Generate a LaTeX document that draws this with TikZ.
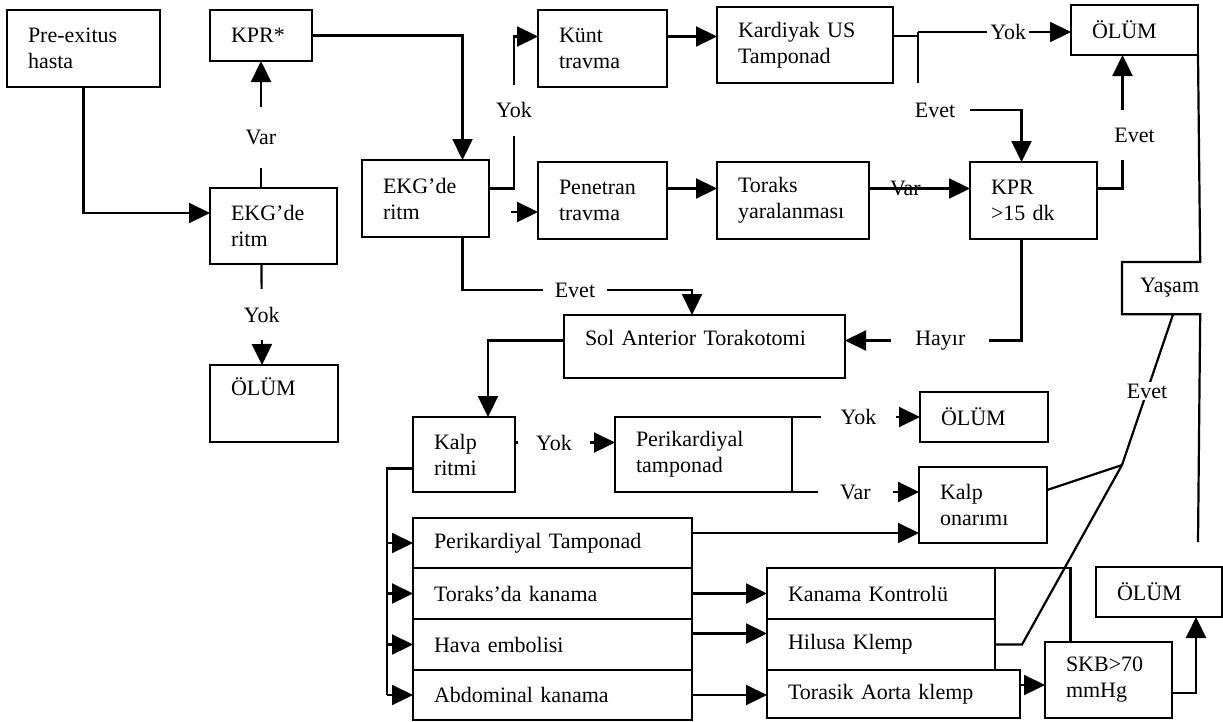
\documentclass[tikz,border=0pt]{standalone}
\usepackage{fontspec}
\setmainfont{Liberation Serif}
\usetikzlibrary{arrows.meta, positioning}

\begin{document}
\begin{tikzpicture}[x=1pt, y=-1pt, line width=2.2pt, >={Triangle[length=21pt,width=20pt]},
      every node/.style={font=\fontsize{22}{26}\selectfont},
      kutu/.style={draw, rectangle, anchor=north west, align=left, inner xsep=21pt, inner ysep=0pt, outer sep=0pt},
      etiket/.style={fill=white, inner sep=3pt}]
      \useasboundingbox (0,0) rectangle (1223,721);
      % sol taraf
      \node[kutu, text width=111pt, minimum height=77pt] (pre) at (7,10) {Pre-exitus\\hasta};
      \node[kutu, text width=60pt, minimum height=51pt] (kpr) at (210,10) {KPR*};
      \node[kutu, text width=85pt, minimum height=76pt] (ekgA) at (210,188) {EKG’de\\ritm};
      \node[kutu, text width=86pt, minimum height=77pt] (olumA) at (210,365) {ÖLÜM\\\strut};
      \node[kutu, text width=85pt, minimum height=77pt] (ekgB) at (362,160) {EKG’de\\ritm};
      % travma kollari
      \node[kutu, text width=87pt, minimum height=77pt] (kunt) at (538,10) {Künt\\travma};
      \node[kutu, text width=134pt, minimum height=76pt] (kardiyak) at (717,7) {Kardiyak US\\Tamponad};
      \node[kutu, text width=85pt, minimum height=50pt] (olumB) at (1071,5) {ÖLÜM};
      \node[kutu, text width=87pt, minimum height=77pt] (penetran) at (538,162) {Penetran\\travma};
      \node[kutu, text width=110pt, minimum height=77pt] (toraks) at (717,162) {Toraks\\yaralanması};
      \node[kutu, text width=85pt, minimum height=77pt] (kpr15) at (970,162) {KPR\\>15 dk};
      \node[anchor=north west, inner xsep=0pt, text width=76pt, align=right, minimum height=50pt] (yasam) at (1122,262) {Yaşam};
      % torakotomi
      \node[kutu, text width=239pt, minimum height=63pt, text depth=18pt] (solAT) at (564,315) {Sol Anterior Torakotomi};
      \node[kutu, text width=60pt, minimum height=75pt] (kalpR) at (413,417) {Kalp\\ritmi};
      \node[kutu, text width=135pt, minimum height=75pt] (perikT) at (615,417) {Perikardiyal\\tamponad};
      \node[kutu, text width=86pt, minimum height=50pt] (olumC) at (920,392) {ÖLÜM};
      \node[kutu, text width=86pt, minimum height=76pt] (onarim) at (919,467) {Kalp\\onarımı};
      % liste
      \node[kutu, text width=237pt, minimum height=50pt] (l1) at (413,518) {Perikardiyal Tamponad};
      \node[kutu, text width=237pt, minimum height=51pt] (l2) [below=0pt of l1.south west, anchor=north west] {Toraks’da kanama};
      \node[kutu, text width=237pt, minimum height=51pt] (l3) [below=0pt of l2.south west, anchor=north west] {Hava embolisi};
      \node[kutu, text width=237pt, minimum height=50pt] (l4) [below=0pt of l3.south west, anchor=north west] {Abdominal kanama};
      \node[kutu, text width=186pt, minimum height=51pt] (kanama) at (767,568) {Kanama Kontrolü};
      \node[kutu, text width=186pt, minimum height=51pt] (hilus) [below=0pt of kanama.south west, anchor=north west] {Hilusa Klemp};
      \node[kutu, text width=211pt, minimum height=48pt] (torasik) [below=0pt of hilus.south west, anchor=north west] {Torasik Aorta klemp};
      \node[kutu, text width=85pt, minimum height=76pt] (skb) at (1045,642) {SKB>70\\mmHg};
      \node[kutu, text width=84pt, minimum height=50pt] (olumD) at (1096,567) {ÖLÜM};
      \node[etiket, inner xsep=14pt] (evet1) at (935,110) {Evet};
      \coordinate (kjt) at (918,32);
      \coordinate (kjb) at (918,83);
      \coordinate (pstub) at (511,212);
      \coordinate (e2) at (692,290);
      \coordinate (kol) at (387,0);
      \coordinate (dj) at (1122,465);
      \coordinate (sagUc) at (1198,542);

      \draw[->] (pre.south) |- ([yshift=13pt]ekgA.west);
      \draw[->] (kpr.south |- ekgA.north) -- node[etiket, pos=0.4, inner ysep=23pt] {Var} (kpr.south);
      \draw[->] (kpr.east) -| ([xshift=37pt]ekgB.north);
      \draw[->] ([xshift=-12pt]ekgA.south) -- node[etiket, inner ysep=18pt] {Yok} ([xshift=-12pt]olumA.north);
      \draw[->] ([yshift=10pt]ekgB.east) -| node[etiket, pos=0.757, inner ysep=18pt] {Yok} ([xshift=-24pt,yshift=12pt]kunt.west) -- ([yshift=12pt]kunt.west);
      \draw[->] (pstub) -- (pstub -| penetran.west);
      \draw[->] ([yshift=12pt]kunt.east) -- ([yshift=12pt]kunt.east -| kardiyak.west);
      \draw[->] ([yshift=12pt]penetran.east) -- ([yshift=12pt]penetran.east -| toraks.west);
      \draw[->] ([yshift=12pt]toraks.east) -- node[pos=0.36] {Var} ([yshift=12pt]toraks.east -| kpr15.west);
      \draw ([yshift=9pt]kardiyak.east) -- ([yshift=9pt]kardiyak.east -| kjt);
      \draw (kjt) -- (kjb);
      \draw[->] (kjt) -- node[etiket, pos=0.59] {Yok} (kjt -| olumB.west);
      \draw[->] (evet1.east) -| ([xshift=-12pt]kpr15.north);
      \draw[->] ([yshift=12pt]kpr15.east) -| node[etiket, pos=0.7, xshift=12pt, inner ysep=18pt] {Evet} ([xshift=-12pt]olumB.south);
      \draw[->] ([xshift=-12pt]kpr15.south) |- node[etiket, pos=0.73, inner xsep=24pt] {Hayır} ([yshift=6pt]solAT.east);
      \draw[->] ([xshift=37pt]ekgB.south) |- node[etiket, pos=0.745, inner xsep=12pt] {Evet} (e2) -- (e2 |- solAT.north);
      \draw[->] ([yshift=6pt]solAT.west) -| ([xshift=24pt]kalpR.north);
      \draw[->] ([yshift=12pt]kalpR.east) -- node[etiket, pos=0.39, inner xsep=18pt] {Yok} ([yshift=12pt]kalpR.east -| perikT.west);
      \draw[->] (perikT.north east) -- node[etiket, pos=0.52, inner xsep=20pt] {Yok} (perikT.north east -| olumC.west);
      \draw[->] (perikT.south east) -- node[etiket, pos=0.5, inner xsep=22pt] {Var} (perikT.south east -| onarim.west);
      % kalp ritmi -> liste
      \draw ([yshift=-14pt]kalpR.west) -| (kol |- l4.west);
      \draw[->] (kol |- l1.west) -- (l1.west);
      \draw[->] (kol |- l2.west) -- (l2.west);
      \draw[->] (kol |- l3.west) -- (l3.west);
      \draw[->] (kol |- l4.west) -- (l4.west);
      \draw[->] ([yshift=10pt]l1.east) -- ([yshift=10pt]l1.east -| onarim.west);
      \draw[->] (l2.east) -- (l2.east -| kanama.west);
      \draw[->] ([yshift=11pt]l3.east) -- ([yshift=11pt]l3.east -| hilus.west);
      \draw[->] (l4.east) -- (l4.east -| torasik.west);
      \draw[->] ([yshift=9pt]torasik.east) -- ([yshift=9pt]torasik.east -| skb.west);
      \draw (kanama.north east) -| ([xshift=-38pt]skb.north);
      \draw[->] ([yshift=-13pt]skb.east) -| ([xshift=37pt]olumD.south);
      % yasam
      \draw (hilus.east) -- ++(27,0) -- (dj) -- node[etiket, pos=0.49, inner sep=2pt] {Evet} ([xshift=12pt]yasam.south);
      \draw ([yshift=15pt]onarim.east) -- (dj);
      \draw (olumB.south east) -- (yasam.north east) -- (yasam.north west) -- (yasam.south west) -- (yasam.south east) -- (sagUc);
    \end{tikzpicture}
\end{document}
